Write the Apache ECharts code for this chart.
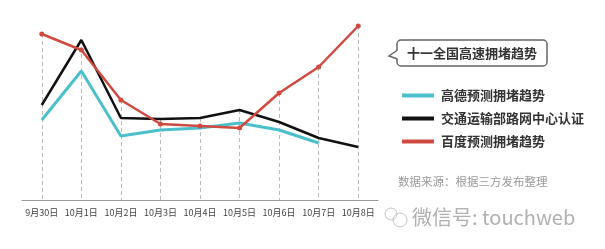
<!DOCTYPE html>
<html><head><meta charset="utf-8">
<script src="https://cdn.jsdelivr.net/npm/echarts@6/dist/echarts.min.js"></script>
<style>html,body{margin:0;padding:0;background:#fff}#c{width:605px;height:249px}</style>
</head><body><div id="c"></div>
<script>
var categories = ['9月30日','10月1日','10月2日','10月3日','10月4日','10月5日','10月6日','10月7日','10月8日'];
var gaode = [80, 129, 64, 70, 72, 77, 70, 57, null];
var jiaotong = [95, 160, 82, 81, 82, 90, 78, 62, 53];
var baidu = [166, 150, 100, 76, 74, 72, 107, 133, 174];
var seriesNames = ['高德预测拥堵趋势', '交通运输部路网中心认证', '百度预测拥堵趋势'];

var guide = categories.map(function (c, i) {
  var top = Math.max(gaode[i] == null ? 0 : gaode[i], jiaotong[i], baidu[i]);
  return [{ coord: [i, top] }, { coord: [i, 0] }];
});

var chart = echarts.init(document.getElementById('c'));
var CJK = '"Noto Sans CJK SC", sans-serif';
chart.setOption({
  animation: false,
  textStyle: { fontFamily: CJK },
  grid: { left: 22, right: 227, top: 0, bottom: 49 },
  xAxis: {
    type: 'category', data: categories, boundaryGap: true,
    axisLine: { lineStyle: { color: '#9a9a9a', width: 1 } },
    axisTick: { show: false },
    axisLabel: { color: '#444', fontSize: 9, margin: 8, interval: 0, fontFamily: CJK }
  },
  yAxis: { type: 'value', min: 0, max: 200, show: false },
  legend: {
    orient: 'vertical', left: 397, top: 84, itemGap: 10,
    itemWidth: 32, itemHeight: 4, icon: 'rect',
    textStyle: { fontSize: 13, fontWeight: 'bold', color: '#333', fontFamily: CJK, padding: [0, 0, 0, 2] },
    data: seriesNames
  },
  series: [
    { name: seriesNames[0], type: 'line', data: gaode, showSymbol: false, symbol: 'none',
      lineStyle: { color: '#4cbfcc', width: 3 }, itemStyle: { color: '#4cbfcc' }, z: 2 },
    { name: seriesNames[1], type: 'line', data: jiaotong, showSymbol: false, symbol: 'none',
      lineStyle: { color: '#111', width: 2.5 }, itemStyle: { color: '#111' }, z: 3 },
    { name: seriesNames[2], type: 'line', data: baidu, symbol: 'circle', symbolSize: 5,
      lineStyle: { color: '#cf4a40', width: 2.5 }, itemStyle: { color: '#cf4a40' }, z: 4,
      markLine: { silent: true, symbol: 'none', label: { show: false },
        lineStyle: { color: '#bbb', type: [4, 3], width: 1 }, data: guide, z: 1 } }
  ],
  graphic: [
    { type: 'rect', shape: { x: 397, y: 40, width: 150, height: 26, r: 4 },
      style: { fill: '#fff', stroke: '#666', lineWidth: 1.5 }, z: 10 },
    { type: 'rect', shape: { x: 395, y: 50, width: 4, height: 9 }, style: { fill: '#fff' }, z: 11 },
    { type: 'polyline', shape: { points: [[397.5, 50], [389, 56], [397.5, 59]] },
      style: { fill: '#fff', stroke: '#666', lineWidth: 1.5 }, z: 12 },
    { type: 'text', x: 472, y: 53, z: 13,
      style: { text: '十一全国高速拥堵趋势', font: 'bold 13px "Noto Sans CJK SC"', fill: '#333', align: 'center', verticalAlign: 'middle' } },
    { type: 'text', x: 398, y: 182, z: 13,
      style: { text: '数据来源：根据三方发布整理', font: '11.5px "Noto Sans CJK SC"', fill: '#999', verticalAlign: 'middle' } },
    { type: 'text', x: 412, y: 217, z: 13,
      style: { text: '微信号: touchweb', font: '20px "Noto Sans CJK SC"', fill: '#b0b0b0', verticalAlign: 'middle' } },
    { type: 'circle', shape: { cx: 400, cy: 220, r: 7 }, style: { fill: 'none', stroke: '#c4c4c4', lineWidth: 1 }, z: 13 },
    { type: 'circle', shape: { cx: 391, cy: 214, r: 6 }, style: { fill: 'none', stroke: '#c4c4c4', lineWidth: 1 }, z: 13 }
  ]
});
</script></body></html>
